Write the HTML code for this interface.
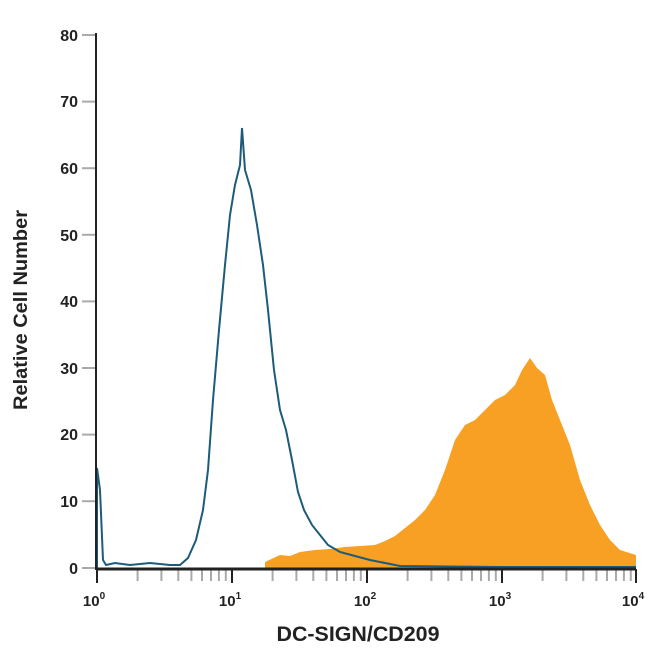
<!DOCTYPE html>
<html><head><meta charset="utf-8"><style>body{margin:0;background:#fff}svg{display:block}text{font-family:"Liberation Sans",sans-serif;font-weight:bold;fill:#222}</style></head><body>
<svg width="650" height="650" viewBox="0 0 650 650">
<g stroke="#aaa" stroke-width="2">
<line x1="82" y1="35" x2="96" y2="35"/><line x1="82" y1="101.6" x2="96" y2="101.6"/><line x1="82" y1="168.2" x2="96" y2="168.2"/><line x1="82" y1="234.8" x2="96" y2="234.8"/><line x1="82" y1="301.4" x2="96" y2="301.4"/><line x1="82" y1="368" x2="96" y2="368"/><line x1="82" y1="434.6" x2="96" y2="434.6"/><line x1="82" y1="501.2" x2="96" y2="501.2"/><line x1="82" y1="568" x2="96" y2="568"/>
</g>
<g stroke="#aaa" stroke-width="2">
<path d="M137.6 569v12M161.4 569v12M178.3 569v12M191.4 569v12M202 569v12M211 569v12M218.9 569v12M225.8 569v12
M272.6 569v12M296.4 569v12M313.3 569v12M326.4 569v12M337 569v12M346 569v12M353.9 569v12M360.8 569v12
M407.6 569v12M431.4 569v12M448.3 569v12M461.4 569v12M472 569v12M481 569v12M488.9 569v12M495.8 569v12
M542.6 569v12M566.4 569v12M583.3 569v12M596.4 569v12M607 569v12M616 569v12M623.9 569v12M630.8 569v12"/>
</g>
<g stroke="#222" stroke-width="2"><path d="M97 569v14M232 569v14M367 569v14M502 569v14M636 569v14"/></g>
<polygon fill="#f7a023" points="265,569 265,562 280,555 290,556 300,552 315,550 330,549 345,547 360,546 375,545 385,541 395,536 405,528 415,520 425,510 435,495 445,470 455,440 465,425 475,420 485,410 495,400 505,395 515,385 522,370 530,358 537,368 545,375 552,400 560,420 570,445 580,480 590,505 600,525 610,540 620,550 636,555 636,569"/>
<polyline fill="none" stroke="#1d5b7a" stroke-width="2" points="97,569 97,468 100,490 103,560 106,565 115,563 130,565 150,563 170,565 180,565 188,558 196,540 203,510 208,470 213,400 219,330 225,265 230,215 235,185 240,165 242,128 245,170 251,190 257,225 263,265 268,310 274,370 280,410 286,430 292,460 298,492 304,510 312,525 320,535 328,545 340,552 355,556 370,560 400,566 500,567 636,567"/>
<line x1="97" y1="569" x2="636" y2="569" stroke="#222" stroke-width="3"/>
<line x1="96" y1="33" x2="96" y2="570" stroke="#222" stroke-width="2"/>
<g font-size="16" text-anchor="end">
<text x="78" y="41">80</text><text x="78" y="107">70</text><text x="78" y="174">60</text><text x="78" y="241">50</text><text x="78" y="307">40</text><text x="78" y="374">30</text><text x="78" y="440">20</text><text x="78" y="507">10</text><text x="78" y="574">0</text>
</g>
<g font-size="15" text-anchor="middle">
<text x="94" y="606">10<tspan font-size="10" dy="-7">0</tspan></text>
<text x="230" y="606">10<tspan font-size="10" dy="-7">1</tspan></text>
<text x="365" y="606">10<tspan font-size="10" dy="-7">2</tspan></text>
<text x="500" y="606">10<tspan font-size="10" dy="-7">3</tspan></text>
<text x="633" y="606">10<tspan font-size="10" dy="-7">4</tspan></text>
</g>
<text x="358" y="641" font-size="21" text-anchor="middle" textLength="163" lengthAdjust="spacingAndGlyphs">DC-SIGN/CD209</text>
<text transform="translate(27,310) rotate(-90)" font-size="19" text-anchor="middle" textLength="200" lengthAdjust="spacingAndGlyphs">Relative Cell Number</text>
</svg>
</body></html>
